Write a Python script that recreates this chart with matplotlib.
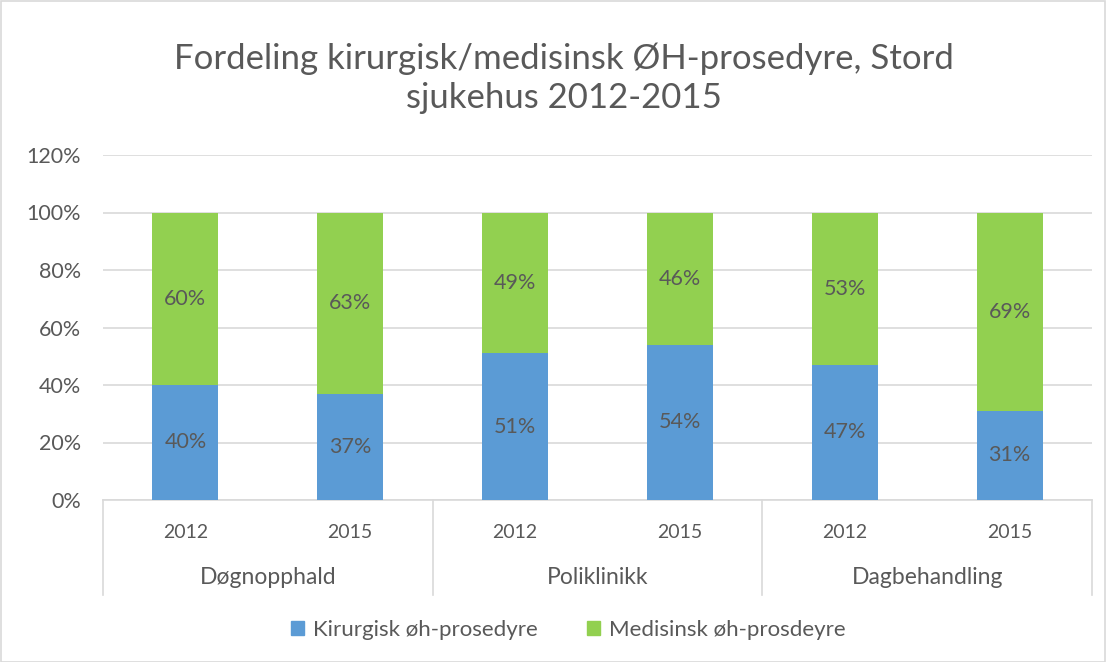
import matplotlib
matplotlib.use("Agg")
import matplotlib.pyplot as plt
from matplotlib.patches import Rectangle
import matplotlib.transforms as mtransforms

groups = ["Døgnopphald", "Poliklinikk", "Dagbehandling"]
years = ["2012", "2015"]
kirurgisk = [40, 37, 51, 54, 47, 31]
medisinsk = [60, 63, 49, 46, 53, 69]
series_names = ["Kirurgisk øh-prosedyre", "Medisinsk øh-prosdeyre"]
title = "Fordeling kirurgisk/medisinsk ØH-prosedyre, Stord\nsjukehus 2012-2015"

BLUE = "#5B9BD5"
GREEN = "#92D050"
TXT = "#595959"
GRID = "#D9D9D9"

plt.rcParams['font.family'] = ['Lato', 'DejaVu Sans']

W, H = 1106, 662
fig = plt.figure(figsize=(W / 100, H / 100), dpi=100)
fig.patches.append(Rectangle((0.5 / W, 0.5 / H), 1 - 1.5 / W, 1 - 1.5 / H, transform=fig.transFigure,
                             fill=False, edgecolor=GRID, linewidth=1.2))

left, right, top, bottom = 103, 1092, 155, 500
ax = fig.add_axes([left / W, 1 - bottom / H, (right - left) / W, (bottom - top) / H])

n = len(kirurgisk)
x = list(range(n))
ax.bar(x, kirurgisk, width=0.4, color=BLUE, zorder=3)
ax.bar(x, medisinsk, width=0.4, bottom=kirurgisk, color=GREEN, zorder=3)

for i in range(n):
    ax.text(i, kirurgisk[i] / 2, f"{kirurgisk[i]}%", ha="center", va="center", fontsize=15.5, color=TXT, zorder=4)
    ax.text(i, kirurgisk[i] + medisinsk[i] / 2, f"{medisinsk[i]}%", ha="center", va="center", fontsize=15.5, color=TXT, zorder=4)

ax.set_xlim(-0.5, n - 0.5)
ax.set_ylim(0, 120)
ax.set_yticks(range(0, 121, 20))
ax.set_yticklabels([f"{v}%" for v in range(0, 121, 20)])
ax.tick_params(axis="y", length=0, labelsize=15.5, labelcolor=TXT, pad=16)
ax.set_xticks([])
ax.grid(axis="y", color=GRID, linewidth=1.2, zorder=0)
for s in ["left", "right", "top"]:
    ax.spines[s].set_visible(False)
ax.spines["bottom"].set_color(GRID)
ax.spines["bottom"].set_linewidth(1.2)

axh = bottom - top
trans = mtransforms.blended_transform_factory(ax.transData, ax.transAxes)
for xv in [-0.5, 1.5, 3.5, 5.5]:
    ax.plot([xv, xv], [0, -95 / axh], transform=trans, color=GRID, linewidth=1.2, clip_on=False)
for i in range(n):
    ax.text(i, -33 / axh, years[i % 2], transform=trans, ha="center", va="center", fontsize=14, color=TXT)
for g, name in enumerate(groups):
    ax.text(2 * g + 0.5, -78 / axh, name, transform=trans, ha="center", va="center", fontsize=16.5, color=TXT)

fig.text(564 / W, 1 - 78 / H, title, ha="center", va="center", fontsize=25, color=TXT, linespacing=1.25)

handles = [Rectangle((0, 0), 1, 1, color=BLUE), Rectangle((0, 0), 1, 1, color=GREEN)]
fig.legend(handles, series_names, loc="center", bbox_to_anchor=(568 / W, 1 - 630 / H), ncol=2,
           frameon=False, fontsize=16, labelcolor=TXT, handlelength=0.6, handleheight=0.6,
           handletextpad=0.4, columnspacing=2.2)

fig.savefig("out.png", dpi=100)
